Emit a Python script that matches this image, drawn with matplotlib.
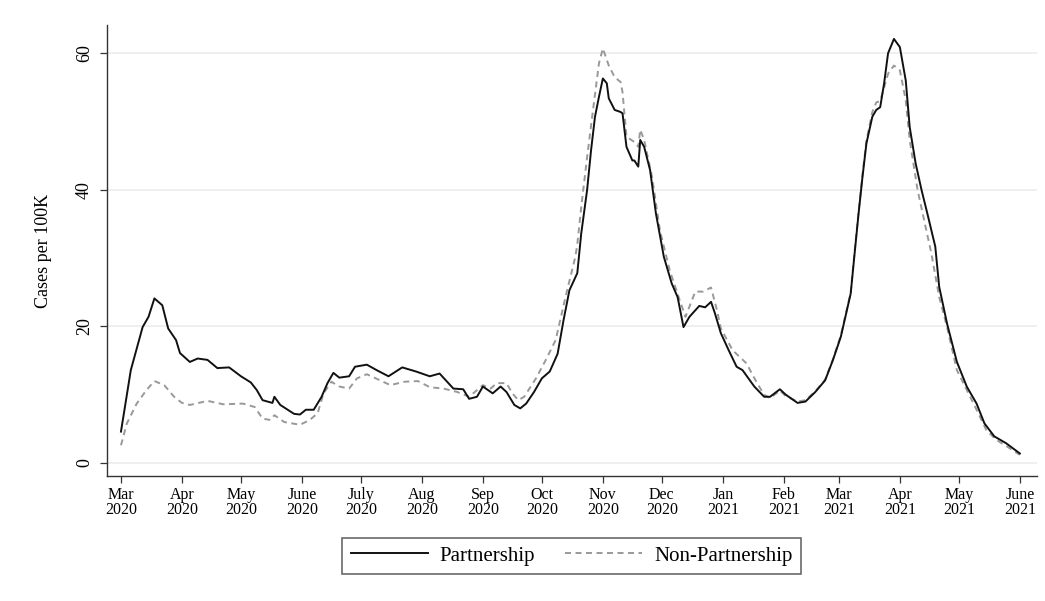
import numpy as np
import matplotlib
matplotlib.use("Agg")
import matplotlib.pyplot as plt
import matplotlib.dates as mdates

plt.rcParams["font.family"] = ["Liberation Serif", "DejaVu Serif"]

START = np.datetime64("2020-03-01")

# days since 2020-03-01, 7-day average cases per 100K
part_days = [0, 5, 11, 14, 17, 21, 24, 28, 30, 35, 39, 44, 49, 55, 61, 66, 69, 72,
             77, 78, 81, 88, 91, 94, 98, 102, 105, 108, 111, 116, 119, 125, 130, 136,
             143, 150, 157, 162, 169, 174, 177, 181, 184, 189, 193, 196, 200, 203, 206,
             210, 214, 218, 222, 225, 228, 232, 234, 237, 239, 241, 243, 245, 247, 248,
             251, 254, 255, 257, 260, 261, 263, 264, 266, 269, 272, 276, 280, 283, 286,
             289, 294, 297, 300, 302, 305, 309, 313, 316, 322, 327, 330, 335, 338, 344,
             348, 353, 358, 362, 366, 371, 373, 375, 377, 379, 382, 384, 386, 388, 390,
             393, 396, 399, 401, 404, 407, 410, 414, 416, 420, 425, 430, 435, 439, 444,
             450, 457]
part_vals = [4.6, 13.6, 19.9, 21.4, 24.1, 23.1, 19.7, 18.0, 16.1, 14.8, 15.3, 15.1,
             13.9, 14.0, 12.7, 11.8, 10.7, 9.2, 8.8, 9.7, 8.5, 7.2, 7.1, 7.8, 7.8, 9.7,
             11.7, 13.2, 12.5, 12.7, 14.1, 14.4, 13.6, 12.7, 14.0, 13.4, 12.7, 13.1,
             10.9, 10.8, 9.4, 9.7, 11.2, 10.2, 11.2, 10.4, 8.5, 8.0, 8.7, 10.4, 12.4,
             13.4, 16.0, 20.9, 25.3, 27.8, 33.6, 40.0, 45.8, 50.7, 53.6, 56.3, 55.6,
             53.4, 51.7, 51.4, 51.2, 46.3, 44.3, 44.3, 43.4, 47.3, 46.3, 42.9, 36.5,
             30.2, 26.3, 24.3, 19.9, 21.4, 23.0, 22.8, 23.6, 21.9, 19.0, 16.5, 14.1,
             13.6, 11.2, 9.7, 9.7, 10.8, 10.0, 8.8, 9.0, 10.4, 12.1, 15.1, 18.5, 24.8,
             30.7, 36.5, 41.9, 46.8, 50.7, 51.7, 52.1, 55.6, 60.0, 62.1, 60.9, 56.0,
             49.2, 43.9, 40.0, 36.5, 31.7, 25.8, 20.4, 14.8, 11.2, 8.7, 5.8, 3.9, 2.9,
             1.4]

nonpart_days = [0, 3, 8, 13, 17, 22, 27, 31, 35, 44, 52, 62, 68, 72, 76, 78, 83, 91,
                96, 100, 103, 107, 111, 116, 120, 125, 137, 144, 151, 157, 164, 171,
                177, 184, 188, 191, 196, 199, 202, 205, 211, 216, 221, 226, 231, 232,
                234, 237, 240, 243, 245, 248, 251, 254, 255, 257, 261, 263, 264, 266,
                270, 274, 279, 284, 287, 292, 296, 300, 303, 305, 311, 318, 323, 327,
                330, 335, 338, 344, 348, 353, 358, 362, 366, 371, 373, 375, 377, 379,
                382, 384, 386, 388, 390, 393, 396, 399, 401, 405, 408, 412, 416, 420,
                425, 430, 435, 440, 445, 450, 457]
nonpart_vals = [2.6, 5.8, 8.7, 10.7, 12.0, 11.4, 9.7, 8.8, 8.5, 9.1, 8.6, 8.7, 8.2,
                6.5, 6.3, 7.0, 6.0, 5.6, 6.3, 7.3, 10.2, 11.9, 11.2, 10.9, 12.4, 13.0,
                11.4, 11.9, 12.0, 11.1, 10.9, 10.4, 9.7, 11.4, 10.9, 11.7, 11.7, 10.2,
                9.2, 9.7, 12.4, 15.1, 18.0, 24.3, 30.2, 32.0, 37.5, 44.8, 51.7, 58.5,
                60.7, 58.2, 56.5, 55.8, 54.3, 47.8, 47.0, 46.3, 48.8, 47.3, 41.9, 34.1,
                28.2, 23.9, 21.4, 25.1, 25.1, 25.7, 22.4, 19.7, 16.5, 14.6, 11.9, 10.0,
                9.5, 10.6, 9.8, 9.0, 9.2, 10.5, 12.2, 15.2, 18.7, 25.0, 31.0, 36.8,
                42.2, 47.2, 51.4, 52.8, 53.0, 55.0, 57.0, 58.2, 57.5, 53.1, 47.3, 40.0,
                36.0, 30.7, 24.3, 19.9, 13.6, 10.7, 7.8, 4.8, 3.4, 2.5, 1.2]

month_names = ["Mar", "Apr", "May", "June", "July", "Aug", "Sep", "Oct", "Nov",
               "Dec", "Jan", "Feb", "Mar", "Apr", "May", "June"]
month_years = ["2020"] * 10 + ["2021"] * 6

part_dates = START + np.array(part_days).astype("timedelta64[D]")
nonpart_dates = START + np.array(nonpart_days).astype("timedelta64[D]")
month_starts = np.arange("2020-03", "2021-07", dtype="datetime64[M]").astype("datetime64[D]")

fig = plt.figure(figsize=(10.45, 6.01), dpi=100)
ax = fig.add_axes([0.1024, 0.208, 0.8899, 0.750])

ax.plot(part_dates, part_vals, color="#111111", lw=1.4, label="Partnership", zorder=3)
ax.plot(nonpart_dates, nonpart_vals, color="#999999", lw=1.4,
        linestyle=(0, (3.1, 2.3)), label="Non-Partnership", zorder=2)

x0 = mdates.date2num(START)
ax.set_xlim(x0 - 7.1, x0 + 465.7)
ax.set_ylim(-1.9, 64.1)

ax.set_yticks([0, 20, 40, 60])
ax.grid(axis="y", color="#ececec", lw=1.2, zorder=0)
ax.set_xticks(month_starts)
ax.set_xticklabels([f"{m}\n{y}" for m, y in zip(month_names, month_years)],
                   linespacing=0.9)

for side in ["top", "right"]:
    ax.spines[side].set_visible(False)
for side in ["left", "bottom"]:
    ax.spines[side].set_color("#333333")
    ax.spines[side].set_linewidth(1.0)

ax.tick_params(axis="both", direction="out", length=5, width=0.9, color="#333333")
ax.tick_params(axis="x", labelsize=11.5, pad=3)
ax.tick_params(axis="y", labelsize=13, pad=5, labelrotation=90)
for lab in ax.get_yticklabels():
    lab.set_va("center")

ax.set_ylabel("Cases per 100K", fontsize=13)
ax.yaxis.set_label_coords(-0.059, 0.5)

leg = fig.legend(loc="center", bbox_to_anchor=(0.547, 0.075), ncol=2, fontsize=15,
                 frameon=True, fancybox=False, handlelength=3.7, handletextpad=0.57,
                 columnspacing=1.43, borderpad=0.4)
leg.get_frame().set_edgecolor("#444444")
leg.get_frame().set_linewidth(1.2)

fig.savefig("out.png", dpi=100)
